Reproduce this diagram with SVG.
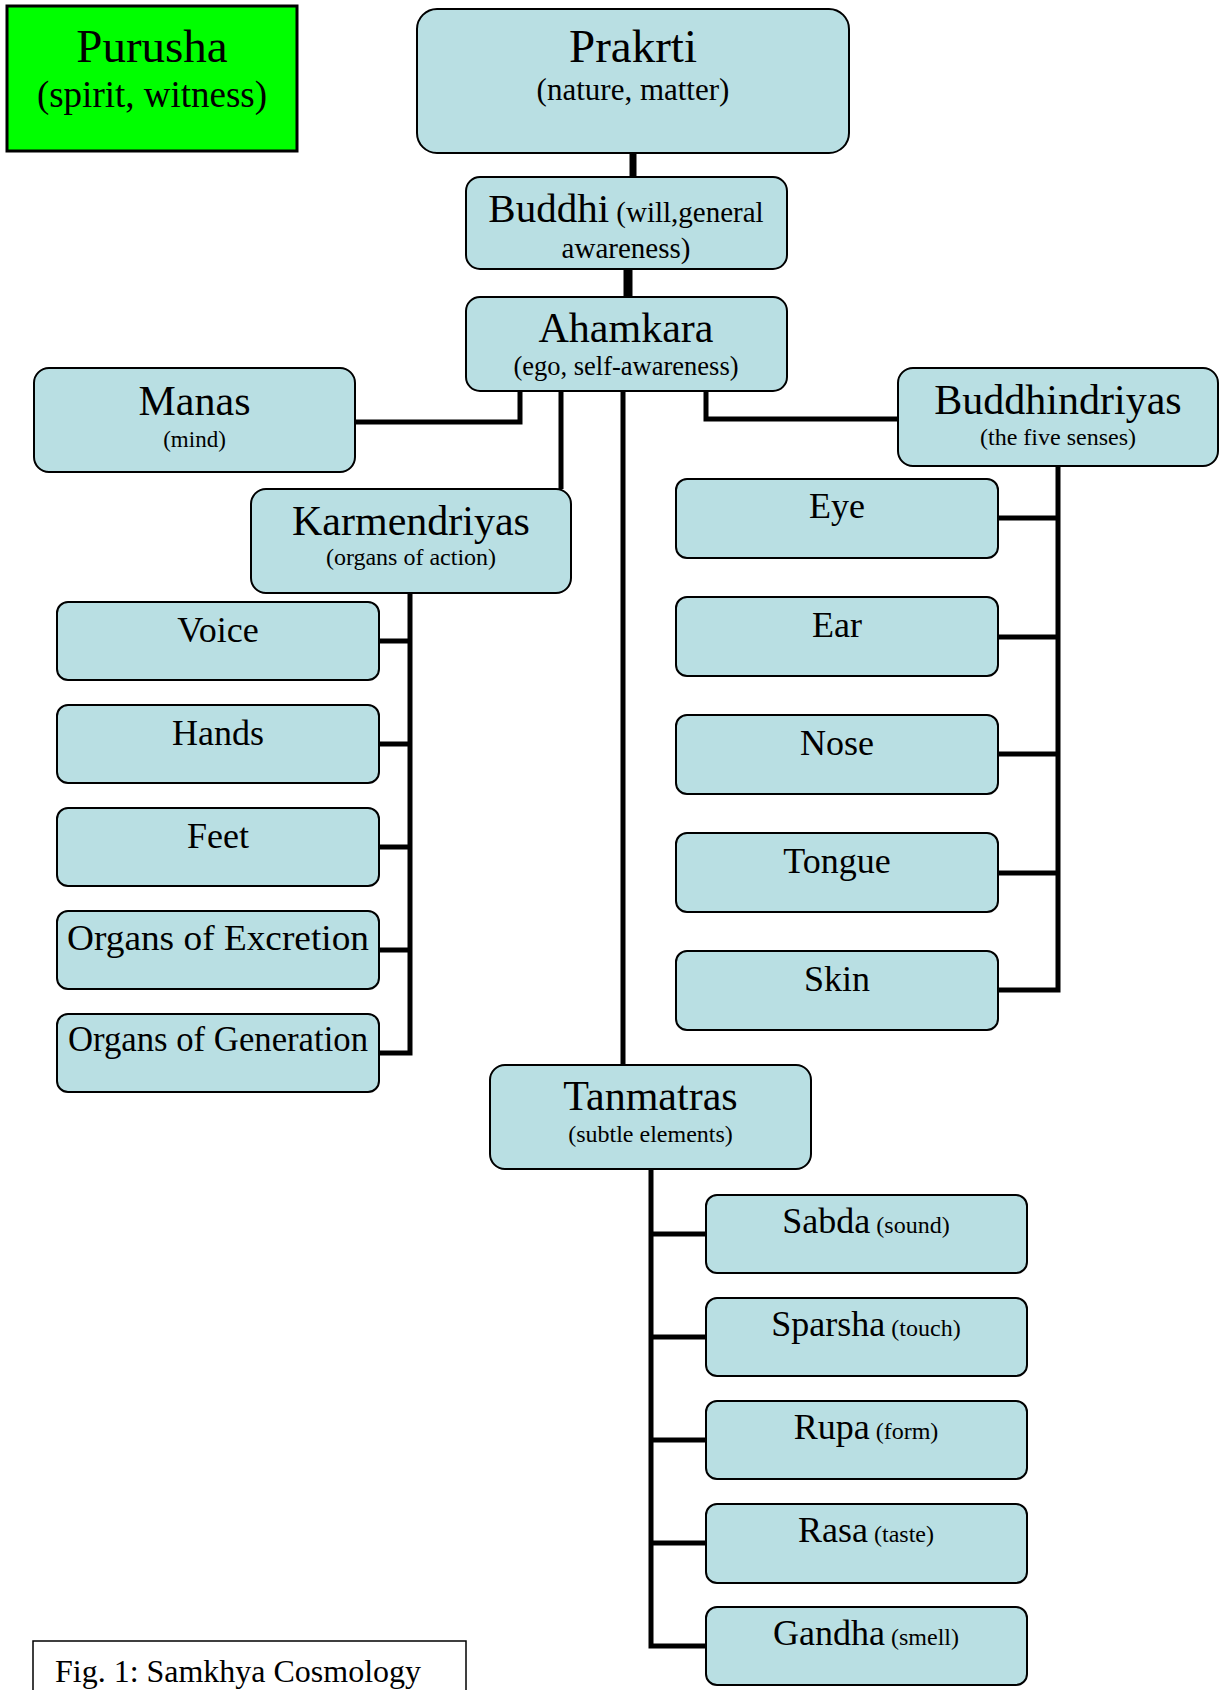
<svg xmlns="http://www.w3.org/2000/svg" width="1221" height="1690" viewBox="0 0 1221 1690">
<style>
.box{fill:#b9dfe3;stroke:#000;stroke-width:2}
.t{font-family:"Liberation Serif","Times New Roman",serif;fill:#000;text-anchor:middle}
.c{fill:none;stroke:#000;stroke-width:5}
</style>
<rect width="1221" height="1690" fill="#fff"/>
<g id="connectors">
<path class="c" d="M633,152 V178" style="stroke-width:7"/>
<path class="c" d="M628,268 V298" style="stroke-width:9"/>
<path class="c" d="M520,391 V422 H355"/>
<path class="c" d="M561,391 V489"/>
<path class="c" d="M623,391 V1065"/>
<path class="c" d="M706,391 V419 H898"/>
<path class="c" d="M410,593 V1053 H379 M379,641 H410 M379,744 H410 M379,847 H410 M379,950 H410"/>
<path class="c" d="M1058,466 V990 H998 M998,518 H1058 M998,637 H1058 M998,754 H1058 M998,873 H1058"/>
<path class="c" d="M651,1169 V1646 H706 M651,1234 H706 M651,1337 H706 M651,1440 H706 M651,1543 H706"/>
</g>
<g id="purusha">
<rect x="7" y="6" width="290" height="145" fill="#00ff00" stroke="#000" stroke-width="3"/>
<text class="t" x="152" y="62" font-size="47">Purusha</text>
<text class="t" x="152" y="107" font-size="37">(spirit, witness)</text>
</g>
<g id="prakrti">
<rect class="box" x="417" y="9" width="432" height="144" rx="20"/>
<text class="t" x="633" y="62" font-size="47">Prakrti</text>
<text class="t" x="633" y="100" font-size="31">(nature, matter)</text>
</g>
<g id="buddhi">
<rect class="box" x="466" y="177" width="321" height="92" rx="14"/>
<text class="t" x="626" y="222"><tspan font-size="41">Buddhi</tspan><tspan font-size="29"> (will,general</tspan></text>
<text class="t" x="626" y="258" font-size="29">awareness)</text>
</g>
<g id="ahamkara">
<rect class="box" x="466" y="297" width="321" height="94" rx="14"/>
<text class="t" x="626" y="342" font-size="42">Ahamkara</text>
<text class="t" x="626" y="375" font-size="26.5">(ego, self-awareness)</text>
</g>
<g id="manas">
<rect class="box" x="34" y="368" width="321" height="104" rx="15"/>
<text class="t" x="194.5" y="415" font-size="42">Manas</text>
<text class="t" x="194.5" y="447" font-size="23">(mind)</text>
</g>
<g id="karmendriyas">
<rect class="box" x="251" y="489" width="320" height="104" rx="15"/>
<text class="t" x="411" y="535" font-size="42">Karmendriyas</text>
<text class="t" x="411" y="565" font-size="24">(organs of action)</text>
</g>
<g id="buddhindriyas">
<rect class="box" x="898" y="368" width="320" height="98" rx="15"/>
<text class="t" x="1058" y="414" font-size="42">Buddhindriyas</text>
<text class="t" x="1058" y="445" font-size="24">(the five senses)</text>
</g>
<g id="voice"><rect class="box" x="57" y="602" width="322" height="78" rx="11"/><text class="t" x="218" y="642" font-size="36">Voice</text></g>
<g id="hands"><rect class="box" x="57" y="705" width="322" height="78" rx="11"/><text class="t" x="218" y="745" font-size="36">Hands</text></g>
<g id="feet"><rect class="box" x="57" y="808" width="322" height="78" rx="11"/><text class="t" x="218" y="848" font-size="36">Feet</text></g>
<g id="excretion"><rect class="box" x="57" y="911" width="322" height="78" rx="11"/><text class="t" x="218" y="950" font-size="36" textLength="302" lengthAdjust="spacingAndGlyphs">Organs of Excretion</text></g>
<g id="generation"><rect class="box" x="57" y="1014" width="322" height="78" rx="11"/><text class="t" x="218" y="1051" font-size="36" textLength="300" lengthAdjust="spacingAndGlyphs">Organs of Generation</text></g>
<g id="eye"><rect class="box" x="676" y="479" width="322" height="79" rx="11"/><text class="t" x="837" y="518" font-size="36">Eye</text></g>
<g id="ear"><rect class="box" x="676" y="597" width="322" height="79" rx="11"/><text class="t" x="837" y="637" font-size="36">Ear</text></g>
<g id="nose"><rect class="box" x="676" y="715" width="322" height="79" rx="11"/><text class="t" x="837" y="755" font-size="36">Nose</text></g>
<g id="tongue"><rect class="box" x="676" y="833" width="322" height="79" rx="11"/><text class="t" x="837" y="873" font-size="36">Tongue</text></g>
<g id="skin"><rect class="box" x="676" y="951" width="322" height="79" rx="11"/><text class="t" x="837" y="991" font-size="36">Skin</text></g>
<g id="tanmatras">
<rect class="box" x="490" y="1065" width="321" height="104" rx="15"/>
<text class="t" x="650.5" y="1110" font-size="42">Tanmatras</text>
<text class="t" x="650.5" y="1142" font-size="24">(subtle elements)</text>
</g>
<g id="sabda"><rect class="box" x="706" y="1195" width="321" height="78" rx="11"/><text class="t" x="866" y="1233"><tspan font-size="36">Sabda</tspan><tspan font-size="24"> (sound)</tspan></text></g>
<g id="sparsha"><rect class="box" x="706" y="1298" width="321" height="78" rx="11"/><text class="t" x="866" y="1336"><tspan font-size="36">Sparsha</tspan><tspan font-size="24"> (touch)</tspan></text></g>
<g id="rupa"><rect class="box" x="706" y="1401" width="321" height="78" rx="11"/><text class="t" x="866" y="1439"><tspan font-size="36">Rupa</tspan><tspan font-size="24"> (form)</tspan></text></g>
<g id="rasa"><rect class="box" x="706" y="1504" width="321" height="79" rx="11"/><text class="t" x="866" y="1542"><tspan font-size="36">Rasa</tspan><tspan font-size="24"> (taste)</tspan></text></g>
<g id="gandha"><rect class="box" x="706" y="1607" width="321" height="78" rx="11"/><text class="t" x="866" y="1645"><tspan font-size="36">Gandha</tspan><tspan font-size="24"> (smell)</tspan></text></g>
<g id="caption">
<rect x="33" y="1641" width="433" height="70" fill="#fff" stroke="#000" stroke-width="1.5"/>
<text x="55" y="1682" font-family="Liberation Serif, Times New Roman, serif" font-size="31" textLength="366" lengthAdjust="spacingAndGlyphs">Fig. 1: Samkhya Cosmology</text>
</g>
</svg>
